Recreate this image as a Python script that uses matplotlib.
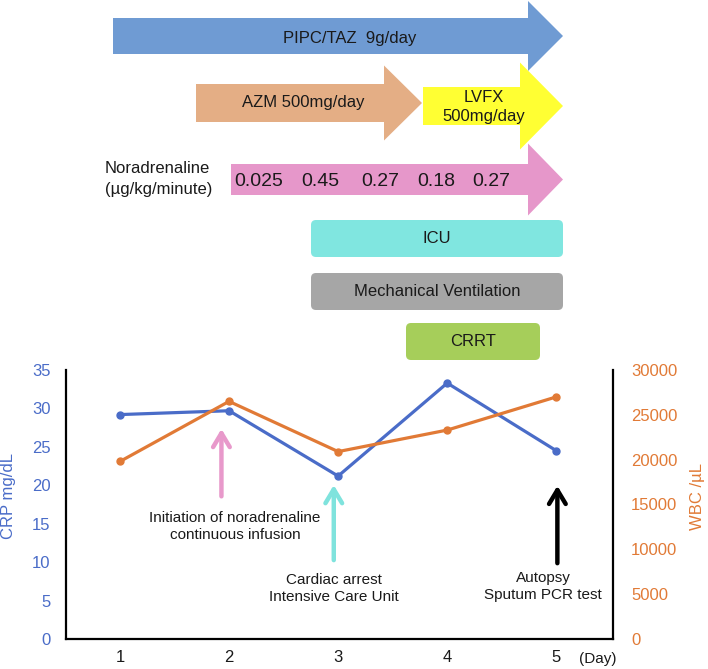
"""Clinical course timeline with CRP / WBC trend (days 1-5)."""

import matplotlib

matplotlib.use("Agg")
import matplotlib.pyplot as plt
from matplotlib.patches import FancyArrow, FancyBboxPatch

plt.rcParams["font.family"] = ["Liberation Sans", "DejaVu Sans"]

# --- data -------------------------------------------------------------
days = [1, 2, 3, 4, 5]
crp = [29.2, 29.7, 21.2, 33.3, 24.5]          # mg/dL
wbc = [19800, 26500, 20900, 23300, 27000]      # /uL
noradrenaline_doses = ["0.025", "0.45", "0.27", "0.18", "0.27"]

event_days = [1.93, 2.96, 5.01]
event_labels = [
    "Initiation of noradrenaline\ncontinuous infusion",
    "Cardiac arrest\nIntensive Care Unit",
    "Autopsy\nSputum PCR test",
]
event_colors = ["#E899CB", "#7FE3DD", "#000000"]

BLUE = "#4A6CC8"
ORANGE = "#E17A36"
TEXT = "#1a1a1a"

W, H = 708, 669
fig = plt.figure(figsize=(W / 100, H / 100), dpi=100)

# overlay in pixel coordinates for the treatment schematic
ov = fig.add_axes([0, 0, 1, 1])
ov.set_xlim(0, W)
ov.set_ylim(H, 0)
ov.axis("off")


def block_arrow(x0, x1, yc, body, head, head_len, color):
    ov.add_patch(FancyArrow(x0, yc, x1 - x0, 0, width=body, head_width=head,
                            head_length=head_len, length_includes_head=True,
                            color=color, lw=0))


block_arrow(113, 563, 36, 36, 70, 35, "#6F9BD3")
ov.text(350, 38, "PIPC/TAZ  9g/day", ha="center", va="center", fontsize=12, color=TEXT)

block_arrow(196, 422, 103, 38, 75, 38, "#E4AE85")
ov.text(303, 102, "AZM 500mg/day", ha="center", va="center", fontsize=12, color=TEXT)

block_arrow(423, 563, 106, 38, 87, 43, "#FFFF33")
ov.text(484, 107, "LVFX\n500mg/day", ha="center", va="center", fontsize=12,
        color=TEXT, linespacing=1.4)

block_arrow(231, 563, 179.5, 31, 72, 35, "#E697CA")
ov.text(105, 179, "Noradrenaline\n(\u00b5g/kg/minute)", ha="left", va="center",
        fontsize=12, color=TEXT, linespacing=1.45)
for xpos, dose in zip([259, 320, 380, 436, 491], noradrenaline_doses):
    ov.text(xpos, 181, dose, ha="center", va="center", fontsize=14, color=TEXT)


def rounded_box(x0, x1, y0, y1, color, label):
    ov.add_patch(FancyBboxPatch((x0, y0), x1 - x0, y1 - y0,
                                boxstyle="round,pad=0,rounding_size=5",
                                fc=color, ec="none"))
    ov.text((x0 + x1) / 2, (y0 + y1) / 2, label, ha="center", va="center",
            fontsize=12, color=TEXT)


rounded_box(311, 563, 220, 257, "#80E6E0", "ICU")
rounded_box(311, 563, 273, 310, "#A6A6A6", "Mechanical Ventilation")
rounded_box(406, 540, 323, 360, "#A6CE5A", "CRRT")

ov.text(598, 659, "(Day)", ha="center", va="center", fontsize=11, color=TEXT)

# --- data axes --------------------------------------------------------
ax = fig.add_axes([66 / W, (H - 639) / H, (613 - 66) / W, (639 - 370) / H])
ax.patch.set_alpha(0)
ax.plot(days, crp, color=BLUE, lw=2.3, marker="o", ms=5, zorder=3)
ax.set_xlim(0.505, 5.52)
ax.set_ylim(0, 35)
ax.set_yticks(range(0, 36, 5))
ax.set_xticks(days)
ax.tick_params(axis="y", length=0, pad=11, labelsize=12, labelcolor=BLUE)
ax.tick_params(axis="x", length=0, pad=8, labelsize=12, labelcolor=TEXT)
ax.set_ylabel("CRP mg/dL", color=BLUE, fontsize=12)
ax.yaxis.set_label_coords(-0.092, 0.53)
for side in ("top", "right"):
    ax.spines[side].set_visible(False)
for side in ("left", "bottom"):
    ax.spines[side].set_linewidth(1.6)

ax2 = ax.twinx()
ax2.plot(days, wbc, color=ORANGE, lw=2.3, marker="o", ms=5, zorder=3)
ax2.set_ylim(0, 30000)
ax2.set_yticks(range(0, 30001, 5000))
ax2.tick_params(axis="y", length=0, pad=13, labelsize=12, labelcolor=ORANGE)
ax2.set_ylabel("WBC /\u00b5L", color=ORANGE, fontsize=12)
ax2.yaxis.set_label_coords(1.14, 0.53)
for side in ("top", "left", "bottom"):
    ax2.spines[side].set_visible(False)
ax2.spines["right"].set_linewidth(1.6)

# event arrows (in CRP units)
tips = [27.7, 20.4, 20.3]
tails = [18.2, 9.9, 9.5]
for xd, tip, tail, col in zip(event_days, tips, tails, event_colors):
    ax.annotate("", xy=(xd, tip), xytext=(xd, tail),
                arrowprops=dict(arrowstyle="->,head_width=0.6,head_length=1.0",
                                color=col, lw=3.2), zorder=4)
label_pos = [(2.055, 14.6), (2.96, 6.6), (4.88, 6.8)]
for (xd, yv), text in zip(label_pos, event_labels):
    ax.text(xd, yv, text, ha="center", va="center", fontsize=11,
            color=TEXT, linespacing=1.25)

fig.savefig("out.png", dpi=100)
